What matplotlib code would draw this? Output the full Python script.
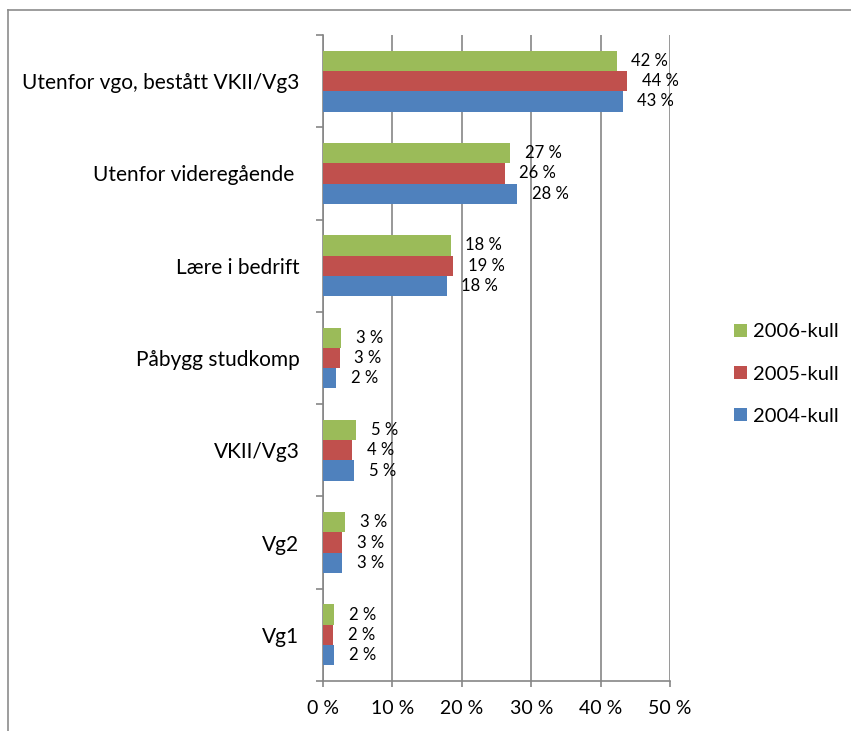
import numpy as np
import matplotlib
matplotlib.use("Agg")
import matplotlib.pyplot as plt
from matplotlib.lines import Line2D

plt.rcParams['font.family'] = ['Lato', 'DejaVu Sans']

# Data (bottom to top) -------------------------------------------------
categories = ["Vg1", "Vg2", "VKII/Vg3", "Påbygg studkomp", "Lære i bedrift",
              "Utenfor videregående ", "Utenfor vgo, bestått VKII/Vg3"]
kull_2006 = [1.6, 3.2, 4.8, 2.6, 18.4, 27.0, 42.3]
kull_2005 = [1.5, 2.8, 4.2, 2.4, 18.8, 26.2, 43.8]
kull_2004 = [1.6, 2.8, 4.5, 1.9, 17.8, 28.0, 43.2]
labels_2006 = ["2 %", "3 %", "5 %", "3 %", "18 %", "27 %", "42 %"]
labels_2005 = ["2 %", "3 %", "4 %", "3 %", "19 %", "26 %", "44 %"]
labels_2004 = ["2 %", "3 %", "5 %", "2 %", "18 %", "28 %", "43 %"]
series_names = ["2006-kull", "2005-kull", "2004-kull"]
xticks = [0, 10, 20, 30, 40, 50]

colors = ["#9BBB59", "#C0504D", "#4F81BD"]
grey = "#868686"

fig = plt.figure(figsize=(8.51, 7.31), dpi=100)
W, H = 851, 731
ax = fig.add_axes([323 / W, 1 - 681 / H, (670 - 323) / W, (681 - 35) / H])

y = np.arange(len(categories))
h = 0.22
series = [(kull_2006, labels_2006, h), (kull_2005, labels_2005, 0.0),
          (kull_2004, labels_2004, -h)]
for (vals, labs, off), col, name in zip(series, colors, series_names):
    bars = ax.barh(y + off, vals, height=h, color=col, label=name, zorder=3)
    for b, lab in zip(bars, labs):
        ax.annotate(lab, (b.get_width(), b.get_y() + b.get_height() / 2),
                    xytext=(10.5, 0), textcoords="offset points",
                    ha="left", va="center", fontsize=12, color="black")

ax.set_xlim(0, 50)
ax.set_ylim(-0.5, len(categories) - 0.5)
ax.set_xticks(xticks)
ax.set_xticklabels([f"{t} %" for t in xticks], fontsize=14)
ax.set_yticks(y)
ax.set_yticklabels(categories, fontsize=15)
ax.set_yticks(np.arange(-0.5, len(categories)), minor=True)
ax.tick_params(axis="y", which="major", length=0, pad=17)
ax.tick_params(axis="y", which="minor", length=5, color=grey, width=1.2)
ax.tick_params(axis="x", length=4.5, color=grey, width=1.2, pad=9)

ax.grid(axis="x", color=grey, lw=1.2, zorder=0)
for s in ["top", "right"]:
    ax.spines[s].set_visible(False)
for s in ["left", "bottom"]:
    ax.spines[s].set_color(grey)
    ax.spines[s].set_linewidth(1.2)

ax.legend(loc="center left", bbox_to_anchor=(716 / W, 1 - 374 / H),
          bbox_transform=fig.transFigure, frameon=False, fontsize=14.5,
          handlelength=0.65, handleheight=0.65, handletextpad=0.3,
          labelspacing=1.25)

# outer chart border (only top and left visible)
fig.add_artist(Line2D([7.5 / W, 1], [1 - 9.5 / H, 1 - 9.5 / H],
                      transform=fig.transFigure, color="#8c8c8c", lw=1.2))
fig.add_artist(Line2D([7.5 / W, 7.5 / W], [0, 1 - 9.5 / H],
                      transform=fig.transFigure, color="#8c8c8c", lw=1.2))

fig.savefig("out.png", dpi=100, facecolor="white")
